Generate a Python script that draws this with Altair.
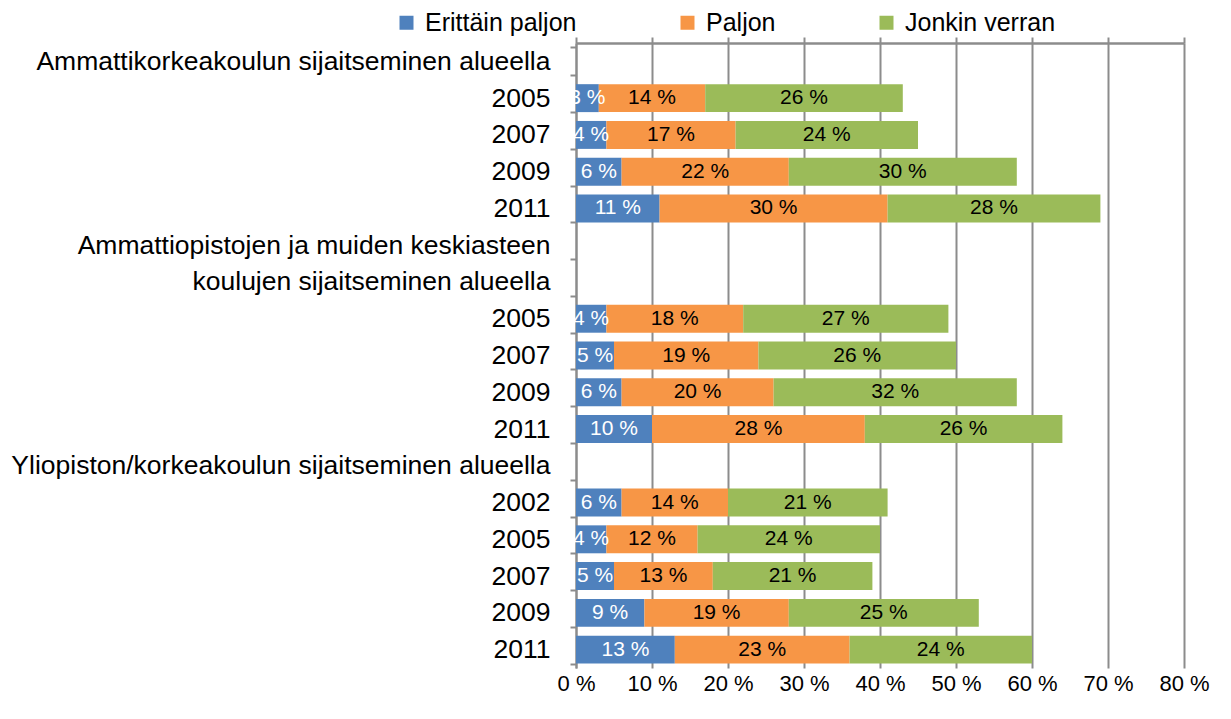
import json
import altair as alt
import pandas as pd

# ---- data ----
row_labels = [
    "Ammattikorkeakoulun sijaitseminen alueella",
    "2005", "2007", "2009", "2011",
    "Ammattiopistojen ja muiden keskiasteen",
    "koulujen sijaitseminen alueella",
    "2005", "2007", "2009", "2011",
    "Yliopiston/korkeakoulun sijaitseminen alueella",
    "2002", "2005", "2007", "2009", "2011",
]
erittain_paljon = [None, 3, 4, 6, 11, None, None, 4, 5, 6, 10, None, 6, 4, 5, 9, 13]
paljon = [None, 14, 17, 22, 30, None, None, 18, 19, 20, 28, None, 14, 12, 13, 19, 23]
jonkin_verran = [None, 26, 24, 30, 28, None, None, 27, 26, 32, 26, None, 21, 24, 21, 25, 24]

series = ["Erittäin paljon", "Paljon", "Jonkin verran"]
colors = ["#4F81BD", "#F79646", "#9BBB59"]
x_ticks = [0, 10, 20, 30, 40, 50, 60, 70, 80]

records = []
for i in range(len(row_labels)):
    vals = [erittain_paljon[i], paljon[i], jonkin_verran[i]]
    if vals[0] is None:
        continue
    start = 0
    for s, v in zip(series, vals):
        records.append(dict(row=i, series=s, start=start, end=start + v,
                            mid=start + v / 2, label=f"{v} %"))
        start += v
df = pd.DataFrame(records)

FONT = "Liberation Sans"
GRAY = "#8c8c8c"

y_enc = alt.Y(
    "row:O",
    scale=alt.Scale(domain=list(range(len(row_labels))), paddingInner=0.24, paddingOuter=0.12),
    axis=alt.Axis(
        orient="left", title=None, grid=False,
        domain=True, domainColor=GRAY, domainWidth=2,
        ticks=True, tickBand="extent", tickSize=6, tickColor=GRAY, tickWidth=2,
        labelFontSize=26.5, labelPadding=20, labelColor="black", labelLimit=1000,
        labelFont=FONT,
        labelExpr=json.dumps(row_labels, ensure_ascii=False) + "[datum.value]",
    ),
)

x_scale = alt.Scale(domain=[0, 80], nice=False)

bars = alt.Chart(df).mark_bar().encode(
    y=y_enc,
    x=alt.X("start:Q", scale=x_scale, axis=alt.Axis(
        orient="top", values=x_ticks, labels=False, title=None,
        ticks=True, tickSize=6, tickColor=GRAY, tickWidth=2,
        domain=True, domainColor=GRAY, domainWidth=2.5,
        grid=True, gridColor=GRAY, gridWidth=2,
    )),
    x2="end:Q",
    color=alt.Color("series:N", scale=alt.Scale(domain=series, range=colors),
                    legend=alt.Legend(
                        title=None, orient="none", legendX=-182, legendY=-33,
                        direction="horizontal", symbolType="square", symbolSize=196,
                        symbolStrokeWidth=0, labelFontSize=25, labelOffset=6,
                        columnPadding=98, labelColor="black", labelFont=FONT,
                        padding=0, symbolOpacity=1,
                    )),
)

text_white = alt.Chart(df).transform_filter(
    alt.datum.series == series[0]
).mark_text(fontSize=21, font=FONT, color="white").encode(
    y=alt.Y("row:O"),
    x=alt.X("mid:Q", scale=x_scale, axis=alt.Axis(
        orient="bottom", values=x_ticks, title=None, domain=False, ticks=False,
        grid=False, labelFontSize=22, labelPadding=5, labelColor="black",
        labelFont=FONT, labelExpr="datum.value + ' %'", labelFlush=False,
        labelOverlap=False,
    )),
    text="label:N",
)

text_black = alt.Chart(df).transform_filter(
    alt.datum.series != series[0]
).mark_text(fontSize=21, font=FONT, color="black").encode(
    y=alt.Y("row:O"),
    x=alt.X("mid:Q", scale=x_scale, axis=None),
    text="label:N",
)

chart = alt.layer(bars, text_white, text_black).resolve_axis(
    x="independent"
).properties(
    width=608, height=625,
    autosize=alt.AutoSizeParams(type="none"),
    padding={"left": 568, "top": 35, "right": 30, "bottom": 60},
).configure_view(stroke=None)

chart.save("out.html", embed_options={"renderer": "svg", "actions": False})
